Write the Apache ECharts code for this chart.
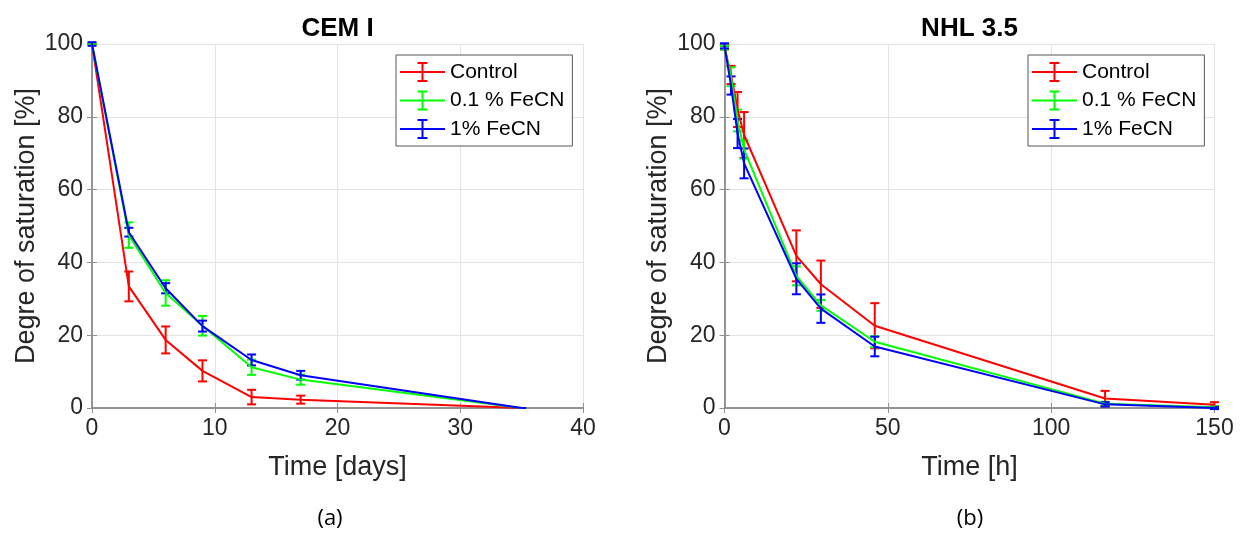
<!DOCTYPE html>
<html>
<head>
<meta charset="utf-8">
<script src="https://cdn.jsdelivr.net/npm/echarts@6/dist/echarts.min.js"></script>
<style>
html,body{margin:0;padding:0;background:#fff;}
#chart{width:1244px;height:533px;}
</style>
</head>
<body>
<div id="chart"></div>
<script>
// ---------- data (a) CEM I ----------
const cemDays = [0, 3, 6, 9, 13, 17, 35];
const cemControl = [100, 33.4, 18.7, 10.2, 3.0, 2.3, 0];
const cemControlErr = [0, 4.1, 3.7, 2.9, 2.0, 1.1, 0];
const cemFe01 = [100, 47.5, 31.6, 22.6, 11.2, 7.8, 0];
const cemFe01Err = [0, 3.5, 3.5, 2.7, 2.1, 1.4, 0];
const cemFe1 = [100, 48.3, 32.9, 22.5, 13.2, 9.0, 0];
const cemFe1Err = [0.5, 1.2, 1.4, 1.5, 1.5, 1.2, 0];

// ---------- data (b) NHL 3.5 ----------
const nhlHours = [0, 2, 4, 6, 22, 29.5, 46, 116.5, 150];
const nhlControl = [99, 91.5, 82, 75, 41.8, 34, 22.6, 2.6, 0.9];
const nhlControlErr = [0.5, 2.5, 4.8, 6.3, 7, 6.5, 6.2, 2.1, 0.7];
const nhlFe01 = [99, 91, 79, 71, 36.3, 28.2, 18.2, 1.2, 0.2];
const nhlFe01Err = [0.5, 2.6, 3, 2.5, 2.6, 1.5, 1.5, 0.5, 0.3];
const nhlFe1 = [99.5, 88.6, 75.4, 67.2, 35.5, 27.3, 16.9, 1.0, 0];
const nhlFe1Err = [0.7, 2.5, 4, 4.1, 4.25, 3.9, 2.7, 0.6, 0.3];

const seriesNames = ['Control', '0.1 % FeCN', '1% FeCN'];
const seriesColors = ['#ff0000', '#00ff00', '#0000ff'];
const cemTicks = {min: 0, max: 40, interval: 10};
const nhlTicks = {min: 0, max: 150, interval: 50};
const yTicks = {min: 0, max: 100, interval: 20};

const FONT = 'Liberation Sans, Arial, sans-serif';
const TXT = '#262626';
const AXC = '#8f8f8f';

const grids = [
  {left: 92, top: 44, width: 491, height: 364},
  {left: 724.5, top: 44, width: 490, height: 364}
];

function xAxes(gi, t, name) {
  const base = {
    gridIndex: gi, type: 'value', min: t.min, max: t.max, interval: t.interval,
    axisLine: {show: true, lineStyle: {color: AXC, width: 1.5}},
    axisTick: {show: true, inside: true, length: 5, lineStyle: {color: AXC}},
  };
  return [
    Object.assign({}, base, {
      position: 'bottom', name: name, nameLocation: 'middle', nameGap: 46,
      nameTextStyle: {fontFamily: FONT, fontSize: 27, color: TXT},
      axisLabel: {fontFamily: FONT, fontSize: 23, color: TXT, margin: 9},
      splitLine: {show: true, lineStyle: {color: '#e3e3e3'}}
    }),
    Object.assign({}, base, {
      position: 'top', axisLabel: {show: false}, splitLine: {show: false}
    })
  ];
}
function yAxes(gi) {
  const base = {
    gridIndex: gi, type: 'value', min: yTicks.min, max: yTicks.max, interval: yTicks.interval,
    axisLine: {show: true, lineStyle: {color: AXC, width: 1.5}},
    axisTick: {show: true, inside: true, length: 5, lineStyle: {color: AXC}},
  };
  return [
    Object.assign({}, base, {
      position: 'left', name: 'Degre of saturation [%]', nameLocation: 'middle', nameGap: 52,
      nameTextStyle: {fontFamily: FONT, fontSize: 27, color: TXT},
      axisLabel: {fontFamily: FONT, fontSize: 23, color: TXT, margin: 9},
      splitLine: {show: true, lineStyle: {color: '#e3e3e3'}}
    }),
    Object.assign({}, base, {
      position: 'right', axisLabel: {show: false}, splitLine: {show: false}
    })
  ];
}

function errorSeries(axisIdx, xs, ys, errs, color) {
  return {
    type: 'custom',
    xAxisIndex: axisIdx, yAxisIndex: axisIdx,
    data: xs.map((x, i) => [x, ys[i] - errs[i], ys[i] + errs[i]]),
    encode: {x: 0, y: [1, 2]},
    clip: false,
    z: 3,
    silent: true,
    renderItem: function (params, api) {
      const x = api.value(0);
      const lo = api.coord([x, api.value(1)]);
      const hi = api.coord([x, api.value(2)]);
      const w = 4.5;
      const st = {stroke: color, lineWidth: 2};
      return {
        type: 'group',
        children: [
          {type: 'line', shape: {x1: lo[0], y1: lo[1], x2: hi[0], y2: hi[1]}, style: st},
          {type: 'line', shape: {x1: lo[0] - w, y1: lo[1], x2: lo[0] + w, y2: lo[1]}, style: st},
          {type: 'line', shape: {x1: hi[0] - w, y1: hi[1], x2: hi[0] + w, y2: hi[1]}, style: st}
        ]
      };
    }
  };
}
function lineSeries(axisIdx, name, xs, ys, color) {
  return {
    type: 'line', name: name, xAxisIndex: axisIdx, yAxisIndex: axisIdx,
    data: xs.map((x, i) => [x, ys[i]]),
    showSymbol: false, symbol: 'none', silent: true,
    lineStyle: {color: color, width: 2},
    itemStyle: {color: color},
    z: 3,
    animation: false
  };
}

const series = [];
const cemSets = [[cemControl, cemControlErr], [cemFe01, cemFe01Err], [cemFe1, cemFe1Err]];
const nhlSets = [[nhlControl, nhlControlErr], [nhlFe01, nhlFe01Err], [nhlFe1, nhlFe1Err]];
for (let k = 0; k < 3; k++) {
  series.push(lineSeries(0, seriesNames[k], cemDays, cemSets[k][0], seriesColors[k]));
  series.push(errorSeries(0, cemDays, cemSets[k][0], cemSets[k][1], seriesColors[k]));
}
for (let k = 0; k < 3; k++) {
  series.push(lineSeries(2, seriesNames[k], nhlHours, nhlSets[k][0], seriesColors[k]));
  series.push(errorSeries(2, nhlHours, nhlSets[k][0], nhlSets[k][1], seriesColors[k]));
}

const ICON = 'path://M0,9H45V11H0Z M21.5,0H23.5V20H21.5Z M17.5,0H27.5V2H17.5Z M17.5,18H27.5V20H17.5Z';
function legend(left) {
  return {
    orient: 'vertical', left: left, top: 55,
    data: seriesNames,
    icon: ICON, itemWidth: 45, itemHeight: 20, itemGap: 7.5,
    padding: [6.5, 8, 6.5, 4],
    borderColor: '#555', borderWidth: 1, backgroundColor: '#fff',
    selectedMode: false,
    textStyle: {fontFamily: FONT, fontSize: 21, color: '#000'}
  };
}

function label(text, x, y, size, weight, family) {
  return {
    type: 'text', x: x, y: y, silent: true,
    style: {text: text, fontFamily: family, fontSize: size, fontWeight: weight,
            fill: '#000', align: 'center', verticalAlign: 'middle'}
  };
}

const option = {
  animation: false,
  backgroundColor: '#fff',
  graphic: [
    label('CEM I', 337.5, 29, 26, 'bold', FONT),
    label('NHL 3.5', 969.5, 29, 26, 'bold', FONT),
    label('(a)', 330, 519, 22, 'normal', 'Open Sans, sans-serif'),
    label('(b)', 970, 519, 22, 'normal', 'Open Sans, sans-serif')
  ],
  legend: [legend(396), legend(1028)],
  grid: grids,
  xAxis: [].concat(xAxes(0, cemTicks, 'Time [days]'), xAxes(1, nhlTicks, 'Time [h]')),
  yAxis: [].concat(yAxes(0), yAxes(1)),
  series: series
};
const chart = echarts.init(document.getElementById('chart'), null, {renderer: 'canvas'});
chart.setOption(option);
</script>
</body>
</html>
